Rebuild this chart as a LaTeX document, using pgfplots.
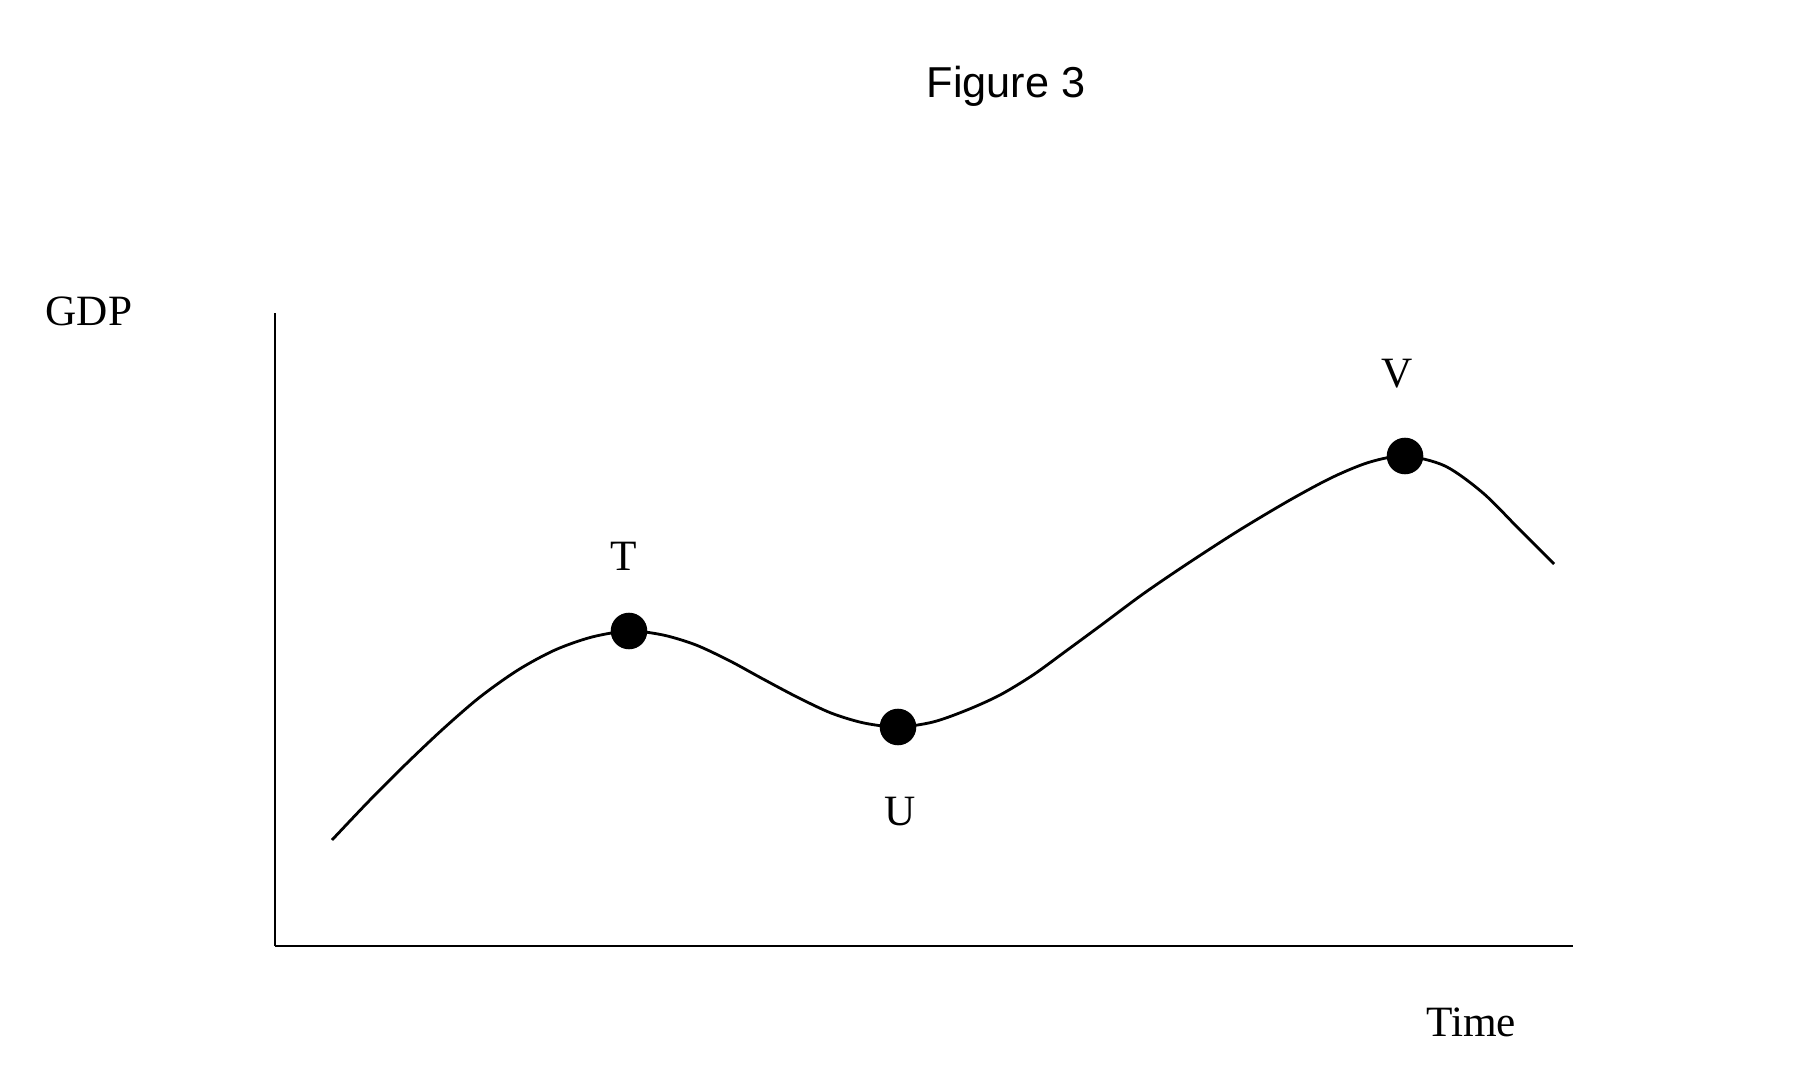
\documentclass[border=0pt]{standalone}
\usepackage{pgfplots}
\pgfplotsset{compat=1.18}
\usepackage{fontspec}
\setmainfont{Liberation Serif}
\newfontfamily\arialfont{Liberation Sans}
\begin{document}
\begin{tikzpicture}
\begin{axis}[
  x=0.01cm, y=0.01cm,
  xmin=275, xmax=1573, ymin=118, ymax=751,
  axis x line=bottom, axis y line=left,
  axis line style={-, line width=0.75pt},
  xtick=\empty, ytick=\empty,
  clip=false,
]
\path (axis cs:0,0) rectangle (axis cs:1808,1064);
\addplot[black, line width=0.8pt, smooth, tension=0.5] coordinates {
(332,224) (369,263) (406,300) (443,335) (480,367) (518,394) (555,414) (592,427) (629,433)
(663,429) (696,419) (730,403) (763,385) (797,367) (831,351) (864,341) (898,337)
(933,342) (967,354) (1000,369) (1033,389) (1066,413) (1100,438) (1143,470) (1187,500)
(1238,533) (1290,564) (1333,587) (1370,602) (1405,608)
(1445,598) (1483,571) (1520,534) (1554,500)
};
\addplot[only marks, mark=*, mark size=5pt, black] coordinates {
(629,433) (898,337) (1405,608)
};
\node[anchor=base, font=\arialfont\fontsize{12.3}{14}\selectfont] at (axis cs:1006,966) {Figure 3};
\node[anchor=base, font=\fontsize{12.3}{14}\selectfont] at (axis cs:89,738) {GDP};
\node[anchor=base, font=\fontsize{12.3}{14}\selectfont] at (axis cs:1471,28) {Time};
\node[anchor=base, font=\fontsize{12.3}{14}\selectfont] at (axis cs:624,494) {T};
\node[anchor=base, font=\fontsize{12.3}{14}\selectfont] at (axis cs:900,239) {U};
\node[anchor=base, font=\fontsize{12.3}{14}\selectfont] at (axis cs:1397,676) {V};
\end{axis}
\end{tikzpicture}
\end{document}
